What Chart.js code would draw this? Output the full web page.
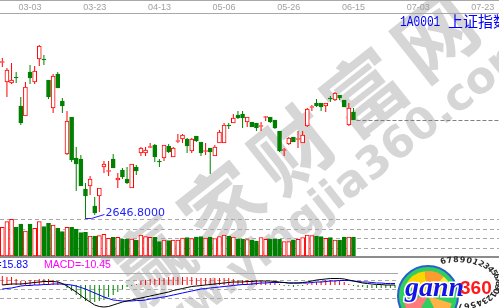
<!DOCTYPE html>
<html>
<head>
<meta charset="utf-8">
<script src="https://cdn.jsdelivr.net/npm/chart.js@4.4.1/dist/chart.umd.min.js"></script>
<style>
  html, body { margin: 0; padding: 0; background: #ffffff; }
  #wrap { width: 499px; height: 308px; }
</style>
</head>
<body>
<div id="wrap"><canvas id="myChart" width="499" height="308"></canvas></div>
<script>
// daily bars of 上证指数, first bar 02-24
let opens = [3031.2, 2983.3, 2980.8, 2994.3, 2924.3, 2899.8, 3007.8, 2983.3, 3039.8, 3038.5,
  2988.2, 2919.4, 3002.9, 2936.6, 2806.4, 2897.3, 2796.6, 2794.2, 2720.5, 2727.8,
  2678.7, 2703.3, 2774.5, 2763.5, 2794.2, 2742.6, 2767.1, 2745.0, 2722.9, 2774.5,
  2808.9, 2808.9, 2822.4, 2828.5, 2788.0, 2796.6, 2826.1, 2799.1, 2837.2, 2843.3,
  2843.3, 2813.8, 2850.6, 2835.9, 2812.6, 2821.2, 2801.5, 2833.5, 2833.5, 2876.4,
  2882.6, 2902.2, 2904.7, 2885.0, 2885.0, 2882.6, 2874.0, 2896.1, 2897.3, 2889.9,
  2862.9, 2815.1, 2831.0, 2848.2, 2842.0, 2833.5, 2875.2, 2920.6, 2931.7, 2931.7,
  2924.3, 2942.7, 2939.1, 2951.3, 2939.1, 2877.7, 2909.6];
let highs = [3042.2, 3017.7, 3029.9, 3007.8, 2946.4, 2983.3, 3025.0, 3022.6, 3074.1, 3049.6,
  2988.2, 3002.9, 3007.8, 2944.0, 2912.0, 2897.3, 2823.6, 2804.0, 2735.2, 2752.4,
  2700.8, 2722.9, 2789.2, 2789.2, 2806.4, 2759.8, 2772.1, 2774.5, 2781.9, 2779.4,
  2823.6, 2823.6, 2833.5, 2831.0, 2794.2, 2828.5, 2831.0, 2823.6, 2855.6, 2855.6,
  2845.7, 2845.7, 2850.6, 2835.9, 2833.5, 2821.2, 2828.5, 2865.4, 2882.6, 2882.6,
  2904.7, 2912.0, 2912.0, 2897.3, 2885.0, 2882.6, 2885.0, 2899.8, 2897.3, 2889.9,
  2862.9, 2821.2, 2848.2, 2848.2, 2862.9, 2862.9, 2919.4, 2926.8, 2941.5, 2931.7,
  2931.7, 2948.9, 2958.7, 2951.3, 2939.1, 2931.7, 2919.4];
let lows = [3020.1, 2946.4, 2978.4, 2980.8, 2877.7, 2899.8, 2978.4, 2978.4, 3022.6, 3025.0,
  2941.5, 2907.1, 2968.5, 2907.1, 2804.0, 2786.8, 2715.6, 2727.8, 2646.8, 2705.7,
  2656.6, 2664.0, 2759.8, 2752.4, 2772.1, 2722.9, 2745.0, 2732.8, 2722.9, 2754.9,
  2801.5, 2801.5, 2821.2, 2786.8, 2774.5, 2789.2, 2808.9, 2799.1, 2833.5, 2833.5,
  2808.9, 2808.9, 2835.9, 2801.5, 2804.0, 2757.3, 2801.5, 2833.5, 2833.5, 2867.8,
  2882.6, 2892.4, 2870.3, 2872.8, 2872.8, 2862.9, 2862.9, 2887.5, 2882.6, 2867.8,
  2811.4, 2801.5, 2828.5, 2835.9, 2821.2, 2833.5, 2872.8, 2912.0, 2921.9, 2912.0,
  2909.6, 2934.2, 2936.6, 2939.1, 2921.9, 2875.2, 2889.9];
let closes = [3032.4, 3012.7, 2988.2, 2993.1, 2882.6, 2971.0, 2993.1, 3010.3, 3071.7, 3037.3,
  2946.4, 2998.0, 2968.5, 2924.3, 2887.5, 2791.7, 2781.9, 2727.8, 2703.3, 2745.0,
  2661.5, 2722.9, 2781.9, 2764.7, 2772.1, 2747.5, 2750.0, 2735.2, 2781.9, 2764.7,
  2821.2, 2816.3, 2823.6, 2799.1, 2786.8, 2828.5, 2811.4, 2821.2, 2838.4, 2853.1,
  2826.1, 2843.3, 2838.4, 2808.9, 2813.8, 2811.4, 2823.6, 2860.5, 2877.7, 2875.2,
  2894.9, 2894.9, 2894.9, 2897.3, 2872.8, 2870.3, 2875.2, 2897.3, 2885.0, 2870.3,
  2813.8, 2816.3, 2845.7, 2835.9, 2843.3, 2853.1, 2917.0, 2921.9, 2924.3, 2921.9,
  2931.7, 2941.5, 2956.3, 2944.0, 2921.9, 2919.4, 2889.9];
let volumes = [287, 343, 367, 287, 320, 250, 320, 277, 343, 293,
  327, 310, 277, 243, 287, 287, 270, 233, 237, 200,
  200, 203, 217, 177, 187, 187, 170, 170, 170, 160,
  210, 193, 187, 187, 143, 160, 153, 160, 160, 180,
  185, 175, 190, 195, 180, 190, 175, 195, 210, 200,
  190, 170, 170, 165, 160, 150, 183, 167, 170, 167,
  167, 143, 143, 160, 167, 183, 210, 203, 200, 193,
  177, 183, 160, 160, 190, 190, 190];
// MACD panel
let difLine = [0, 1, 2, 2, 2, 3, 4, 5, 6, 7, 7, 7, 6, 3, -2, -8, -14, -21, -28, -34,
  -40, -43, -44, -43, -40, -37, -34, -32, -30, -28, -26, -24, -22, -20, -18, -16, -14, -11, -9, -7,
  -5, -3, -2, -1, 0, 1, 2, 3, 4, 5, 6, 6, 6, 7, 7, 8, 8, 8, 8, 7,
  6, 5, 4, 4, 4, 5, 6, 8, 10, 11, 12, 13, 13, 13, 12, 10, 8, 6, 4, 3,
  2, 1, 1, 0, 0, 0];
let deaLine = [-8, -7, -6, -4, -2, -1, -1, 0, 0, 1, 1, 2, 2, 2, 1, 0, -2, -5, -8, -12,
  -16, -20, -24, -27, -30, -31, -32, -32, -32, -31, -31, -30, -28, -27, -25, -24, -22, -20, -18, -16,
  -14, -12, -10, -8, -7, -6, -5, -4, -3, -2, -1, 0, 1, 1, 2, 3, 4, 4, 5, 5,
  5, 5, 4, 4, 4, 4, 4, 5, 6, 6, 7, 8, 8, 9, 9, 9, 8, 7, 6, 6,
  5, 4, 4, 3, 3, 3];
let macdBars = [18, 16, 16, 12, 8, 8, 10, 10, 12, 12, 12, 10, 8, 2, -6, -12, -20, -26, -32, -34,
  -34, -32, -30, -24, -20, -14, -8, -4, -2, 2, 8, 10, 12, 12, 14, 14, 16, 16, 16, 16,
  16, 16, 14, 14, 14, 14, 14, 14, 14, 14, 12, 10, 10, 10, 10, 10, 8, 8, 6, 4,
  2, -2, -2, -4, -2, -2, 2, 4, 6, 8, 10, 10, 10, 8, 6, 2, -2, -4, -4, -6,
  -6, -6, -6, -6, -6, -6];
let tickIndex = [6, 20, 34, 48, 62, 76, 90, 104];
let tickText = ['03-03', '03-23', '04-13', '05-06', '05-26', '06-15', '07-03', '07-23'];

const RED = '#ff0000';
const GREEN = '#008000';
const slotCount = 108;
let slots = [];
for (let i = 0; i < slotCount; i++) slots.push(i);

function isUp(i) { return closes[i] >= opens[i]; }

let volGrid = [-10, 80, 175, 270, 370];
let macdGrid = [24, 10, -8, -26];

const overlay = {
  id: 'overlay',
  beforeDraw(chart) {
    const ctx = chart.ctx;
    // watermark
    ctx.save();
    ctx.fillStyle = '#d6d6d6';
    ctx.translate(150, 262);
    ctx.rotate(-0.67);
    ctx.textAlign = 'center';
    ctx.textBaseline = 'middle';
    ctx.font = 'bold 80px "Noto Sans CJK SC"';
    ['赢', '家', '财', '富', '网'].forEach((c, k) => ctx.fillText(c, k * 91, 0));
    ctx.textAlign = 'left';
    ctx.font = 'bold 44px "DejaVu Sans"';
    ctx.fillText('www.yingjia360.com', -80, 64);
    ctx.restore();
  },
  afterDraw(chart) {
    const ctx = chart.ctx;
    const xs = chart.scales.x, ys = chart.scales.y;
    ctx.save();
    // frame line at the very top
    ctx.fillStyle = '#a8a8a8';
    ctx.fillRect(0, 0, 499, 1);
    // title
    ctx.fillStyle = '#0000ff';
    ctx.textBaseline = 'alphabetic';
    ctx.save();
    ctx.translate(400, 26);
    ctx.scale(0.8, 1);
    ctx.font = '14px "Liberation Mono"';
    ctx.fillText('1A0001', 0, 0);
    ctx.restore();
    ctx.font = '15px "Noto Sans CJK SC"';
    ctx.fillText('上证指数', 448, 27);
    // lowest low marker
    let lowIdx = 0;
    lows.forEach((v, i) => { if (v < lows[lowIdx]) lowIdx = i; });
    const lx = xs.getPixelForValue(lowIdx), ly = ys.getPixelForValue(lows[lowIdx]);
    ctx.strokeStyle = '#2020ff';
    ctx.lineWidth = 1;
    ctx.beginPath();
    ctx.moveTo(lx, ly - 0.5);
    ctx.lineTo(lx + 6, ly - 0.5);
    ctx.lineTo(lx + 19, ly - 4.5);
    ctx.stroke();
    ctx.fillStyle = '#2020ff';
    ctx.font = '11px "DejaVu Sans"';
    ctx.fillText(lows[lowIdx].toFixed(4), lx + 20, ly - 3);
    // last close line
    const last = closes.length - 1;
    const cy = Math.round(ys.getPixelForValue(closes[last])) + 0.5;
    ctx.strokeStyle = '#808080';
    ctx.setLineDash([4, 2]);
    ctx.beginPath();
    ctx.moveTo(xs.getPixelForValue(last) + 3, cy);
    ctx.lineTo(499, cy);
    ctx.stroke();
    ctx.setLineDash([]);
    // indicator values
    ctx.font = '10.5px "Liberation Sans"';
    ctx.fillStyle = '#0000ff';
    ctx.textAlign = 'right';
    ctx.fillText('DEA=15.83', 28, 268);
    ctx.textAlign = 'left';
    ctx.fillStyle = '#ff00ff';
    ctx.fillText('MACD=-10.45', 44, 268);
    drawLogo(ctx);
    ctx.restore();
  }
};

function drawLogo(ctx) {
  ctx.save();
  ctx.fillStyle = '#ffffff';
  ctx.fillRect(398, 258, 101, 50);
  // ring of digits
  ctx.fillStyle = '#2a2a2a';
  ctx.font = 'bold 8px "DejaVu Sans"';
  ctx.textAlign = 'center';
  ctx.textBaseline = 'middle';
  const ring = '6789012345678901234567890';
  for (let k = 0; k < ring.length; k++) {
    const a = -1.95 + k * 0.165;
    ctx.save();
    ctx.translate(458 + Math.cos(a) * 40, 283 + Math.sin(a) * 23);
    ctx.rotate(a + Math.PI / 2);
    ctx.fillText(ring[k], 0, 0);
    ctx.restore();
  }
  // emblem
  ctx.beginPath();
  ctx.arc(428, 296, 30, 0, Math.PI * 2);
  ctx.fillStyle = '#2fcf5f';
  ctx.fill();
  ctx.lineWidth = 2;
  ctx.strokeStyle = '#2a5fd0';
  ctx.stroke();
  const wedges = [[-2.7, -1.7, '#ffd400'], [-1.7, -0.9, '#ff9a2e'], [-0.9, -0.1, '#ffe44a'],
    [0.3, 1.1, '#ffb347'], [2.1, 3.0, '#ff7a7a']];
  wedges.forEach(w => {
    ctx.beginPath();
    ctx.moveTo(428, 296);
    ctx.arc(428, 296, 25, w[0], w[1]);
    ctx.closePath();
    ctx.fillStyle = w[2];
    ctx.fill();
  });
  ctx.textAlign = 'left';
  ctx.textBaseline = 'alphabetic';
  ctx.font = 'italic bold 28px "Liberation Serif"';
  ctx.lineWidth = 3;
  ctx.strokeStyle = '#ffffff';
  ctx.strokeText('gann', 405, 296);
  ctx.fillStyle = '#1414e6';
  ctx.fillText('gann', 405, 296);
  ctx.font = 'bold 19px "Liberation Sans"';
  ctx.fillStyle = '#ff1a1a';
  ctx.fillText('360', 460, 294);
  ctx.restore();
}

let ctx = document.getElementById('myChart').getContext('2d');
let myChart = new Chart(ctx, {
  data: {
    labels: slots,
    datasets: [
      {
        type: 'bar', label: 'wick', yAxisID: 'y',
        data: lows.map((l, i) => [l, highs[i]]),
        grouped: false, barThickness: 1, inflateAmount: 0, borderWidth: 0,
        backgroundColor: c => isUp(c.dataIndex) ? RED : GREEN,
        order: 5
      },
      {
        type: 'bar', label: 'body', yAxisID: 'y',
        data: opens.map((o, i) => [o, closes[i]]),
        grouped: false, barThickness: 4, minBarLength: 1,
        borderWidth: 1, borderSkipped: false,
        backgroundColor: c => isUp(c.dataIndex) ? '#ffffff' : GREEN,
        borderColor: c => isUp(c.dataIndex) ? RED : GREEN,
        order: 4
      },
      {
        type: 'bar', label: 'volume', yAxisID: 'yVol',
        data: volumes,
        grouped: false, barThickness: 4,
        borderWidth: 1, borderSkipped: false,
        backgroundColor: c => isUp(c.dataIndex) ? '#ffffff' : GREEN,
        borderColor: c => isUp(c.dataIndex) ? RED : GREEN,
        order: 4
      },
      {
        type: 'bar', label: 'MACD', yAxisID: 'yMacd',
        data: macdBars,
        grouped: false, barThickness: 1, inflateAmount: 0, borderWidth: 0,
        backgroundColor: c => c.raw >= 0 ? RED : GREEN,
        order: 6
      },
      {
        type: 'line', label: 'DEA', yAxisID: 'yMacd',
        data: deaLine, borderColor: '#0000ff', borderWidth: 1,
        pointRadius: 0, tension: 0, order: 2
      },
      {
        type: 'line', label: 'DIF', yAxisID: 'yMacd',
        data: difLine, borderColor: '#000000', borderWidth: 1,
        pointRadius: 0, tension: 0, order: 1
      }
    ]
  },
  options: {
    responsive: false,
    animation: false,
    events: [],
    layout: { padding: 0 },
    plugins: { legend: { display: false }, tooltip: { enabled: false } },
    scales: {
      x: {
        type: 'category',
        position: 'top',
        offset: true,
        grid: { display: false, drawTicks: false },
        border: { display: true, color: '#a8a8a8', width: 1 },
        ticks: {
          autoSkip: false, maxRotation: 0, minRotation: 0, padding: 0,
          color: '#a0a0a0',
          font: { family: 'Liberation Sans', size: 9 },
          callback: (v, i) => {
            let k = tickIndex.indexOf(i);
            return k >= 0 ? tickText[k] : '';
          }
        },
        afterFit: s => { s.height = 13; }
      },
      y: { display: false, min: 2428.2, max: 3152.7 },
      yVol: {
        position: 'left', min: -520, max: 2430,
        ticks: { display: false },
        grid: {
          drawTicks: false,
          color: c => c.tick && c.tick.value === -10 ? '#8c8c8c' : '#a8a8a8',
          lineWidth: c => c.tick && c.tick.value === -10 ? 2 : 1
        },
        border: { display: false, dash: c => c.tick && c.tick.value === -10 ? [] : [4, 3] },
        afterBuildTicks: s => { s.ticks = volGrid.map(v => ({ value: v })); },
        afterFit: s => { s.width = 0; }
      },
      yMacd: {
        position: 'left', min: -46, max: 544,
        ticks: { display: false },
        grid: { drawTicks: false, color: '#a8a8a8', lineWidth: 1 },
        border: { display: false, dash: c => c.tick && c.tick.value === 24 ? [] : [4, 3] },
        afterBuildTicks: s => { s.ticks = macdGrid.map(v => ({ value: v })); },
        afterFit: s => { s.width = 0; }
      }
    }
  },
  plugins: [overlay]
});
</script>
</body>
</html>
